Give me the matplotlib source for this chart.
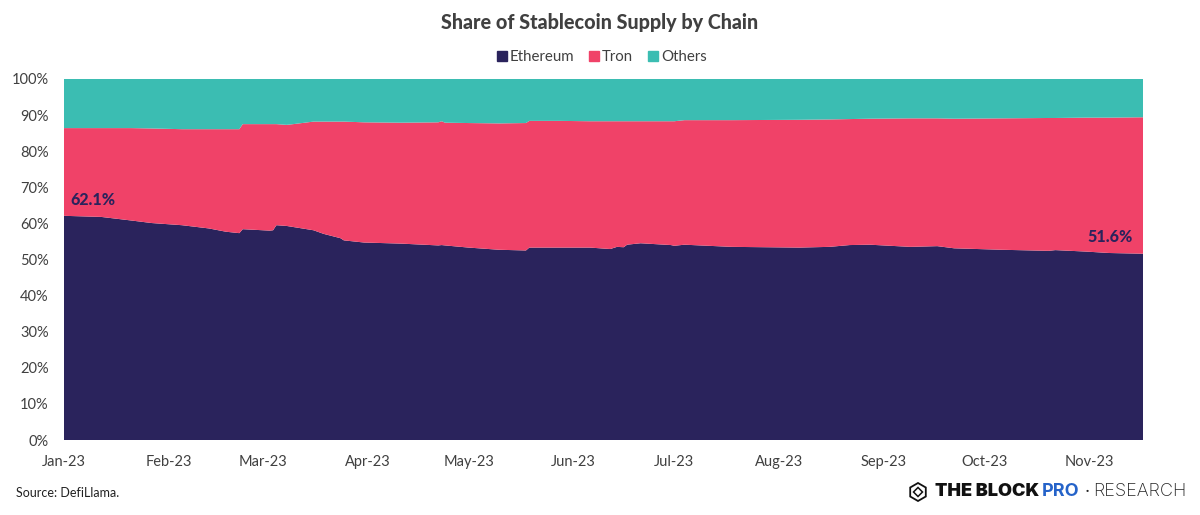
import pandas as pd
import matplotlib
matplotlib.use("Agg")
import matplotlib.pyplot as plt
import matplotlib.dates as mdates
from matplotlib.lines import Line2D
from matplotlib.patches import RegularPolygon

plt.rcParams['font.family'] = ['Lato', 'DejaVu Sans']

# days since 1 Jan 2023
days = [0, 11, 20, 26, 35, 43, 48, 52, 53, 61, 62, 63, 66, 68, 74, 77, 82, 83,
        89, 100, 111, 112, 113, 120, 129, 137, 138, 147, 156, 162, 164, 166,
        167, 171, 180, 181, 184, 198, 218, 227, 233, 239, 251, 259, 264, 278,
        292, 294, 303, 310, 320]

# top edge of each band, in percent
ethereum = [62.1, 61.8, 60.8, 60.1, 59.5, 58.6, 57.7, 57.3, 58.4, 58.0, 58.1,
            59.5, 59.3, 59.0, 58.1, 57.1, 55.9, 55.3, 54.7, 54.4, 53.9, 54.0,
            53.9, 53.3, 52.7, 52.5, 53.3, 53.3, 53.3, 52.9, 53.5, 53.4, 54.1,
            54.5, 54.0, 53.8, 54.1, 53.5, 53.3, 53.5, 54.0, 54.1, 53.5, 53.7,
            53.1, 52.7, 52.4, 52.6, 52.2, 51.8, 51.6]
ethereum_tron = [86.4, 86.4, 86.4, 86.3, 86.1, 86.1, 86.1, 86.1, 87.5, 87.5,
                 87.5, 87.5, 87.3, 87.5, 88.2, 88.2, 88.2, 88.2, 88.0, 87.9,
                 88.0, 88.3, 87.9, 87.8, 87.7, 87.8, 88.4, 88.4, 88.3, 88.3,
                 88.3, 88.3, 88.3, 88.3, 88.3, 88.3, 88.6, 88.6, 88.7, 88.8,
                 88.9, 89.0, 89.1, 89.1, 89.0, 89.1, 89.2, 89.2, 89.3, 89.3,
                 89.4]

tick_months = ["2023-01-01", "2023-02-01", "2023-03-01", "2023-04-01",
               "2023-05-01", "2023-06-01", "2023-07-01", "2023-08-01",
               "2023-09-01", "2023-10-01", "2023-11-01"]
tick_pcts = [0, 10, 20, 30, 40, 50, 60, 70, 80, 90, 100]

dates = pd.to_datetime("2023-01-01") + pd.to_timedelta(days, unit="D")
tron = [t - e for t, e in zip(ethereum_tron, ethereum)]
others = [100 - t for t in ethereum_tron]

GREY = "#404040"
NAVY = "#2A235C"
RED = "#F04268"
TEAL = "#3BBDB2"
LOGO = ["Inter", "DejaVu Sans"]

fig = plt.figure(figsize=(12, 5.15), dpi=100)
ax = fig.add_axes([64 / 1200, 1 - 440 / 515, 1079 / 1200, 361 / 515])

ax.stackplot(dates, ethereum, tron, others, colors=[NAVY, RED, TEAL],
             linewidth=0)

ax.set_xlim(dates[0], dates[-1])
ax.set_ylim(0, 100)
ax.set_yticks(tick_pcts)
ax.set_yticklabels([str(p) + "%" for p in tick_pcts])
ax.set_xticks(pd.to_datetime(tick_months))
ax.xaxis.set_major_formatter(mdates.DateFormatter("%b-%y"))
ax.tick_params(length=0, labelsize=10.5, labelcolor=GREY)
ax.tick_params(axis="x", pad=11)
ax.tick_params(axis="y", pad=11)
for side in ax.spines.values():
    side.set_visible(False)

# end labels
ax.text(dates[0] + pd.Timedelta(days=2), 66.6, "62.1%", color=NAVY,
        fontsize=11.5, fontweight="black", va="center")
ax.text(dates[-1] - pd.Timedelta(days=3), 56.2, "51.6%", color=NAVY,
        fontsize=11.5, fontweight="black", va="center", ha="right")

fig.text(0.4995, 1 - 23 / 515, "Share of Stablecoin Supply by Chain",
         color=GREY, fontsize=14.2, fontweight="black", ha="center",
         va="center")

handles = [Line2D([], [], marker="s", ls="", ms=6.5, color=c)
           for c in [NAVY, RED, TEAL]]
fig.legend(handles, ["Ethereum", "Tron", "Others"], loc="center",
           bbox_to_anchor=(0.5005, 1 - 57 / 515), ncol=3, frameon=False,
           fontsize=10.8, labelcolor=GREY, handletextpad=0.0,
           columnspacing=0.85, handlelength=1.0)

fig.text(16 / 1200, 1 - 493 / 515, "Source: DefiLlama.", color="#222222",
         fontsize=9, va="center")

# logo
logo_y = 1 - 492 / 515
fig.text(935 / 1200, logo_y, "THE BLOCK", color="#111111", fontsize=13,
         fontweight="black", family=LOGO, va="center")
fig.text(1042 / 1200, logo_y, "PRO", color="#2563C9", fontsize=13,
         fontweight="bold", family=LOGO, va="center")
fig.text(1085 / 1200, logo_y, "·", color="#222222", fontsize=13,
         family=LOGO, va="center")
fig.text(1093 / 1200, logo_y, "RESEARCH", color="#222222", fontsize=13,
         fontweight="light", family=LOGO, va="center")

# cube icon, in inches from the lower left corner
cube_x, cube_y = 9.18, 0.23
fig.add_artist(RegularPolygon((cube_x, cube_y), 6, radius=0.09,
                              transform=fig.dpi_scale_trans, fill=False,
                              edgecolor="#111111", linewidth=1.3))
fig.add_artist(RegularPolygon((cube_x, cube_y), 4, radius=0.045,
                              transform=fig.dpi_scale_trans, fill=False,
                              edgecolor="#111111", linewidth=1.1))

fig.savefig("out.png", dpi=100)
